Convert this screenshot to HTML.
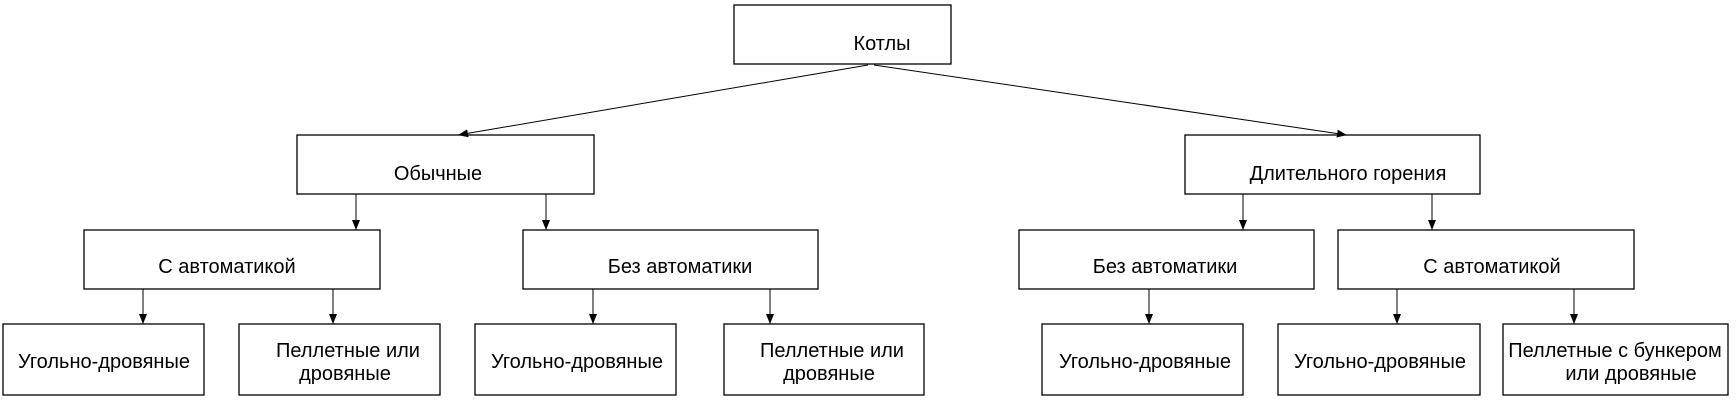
<!DOCTYPE html>
<html><head><meta charset="utf-8"><style>html,body{margin:0;padding:0;background:#fff}svg{display:block}</style></head>
<body>
<svg width="1736" height="406" viewBox="0 0 1736 406" xmlns="http://www.w3.org/2000/svg">
<defs><marker id="a" markerWidth="10" markerHeight="8" refX="10" refY="4" orient="auto" markerUnits="userSpaceOnUse"><path d="M0,0 L10,4 L0,8 z" fill="#000"/></marker></defs>
<g fill="#fff" stroke="#000" stroke-width="1.3">
<rect x="734" y="5" width="217" height="59"/>
<rect x="297" y="135" width="297" height="59"/>
<rect x="1185" y="135" width="295" height="59"/>
<rect x="84" y="230" width="296" height="59"/>
<rect x="523" y="230" width="295" height="59"/>
<rect x="1019" y="230" width="295" height="59"/>
<rect x="1338" y="230" width="296" height="59"/>
<rect x="3" y="324" width="201" height="71"/>
<rect x="239" y="324" width="201" height="71"/>
<rect x="475" y="324" width="201" height="71"/>
<rect x="724" y="324" width="200" height="71"/>
<rect x="1042" y="324" width="201" height="71"/>
<rect x="1278" y="324" width="202" height="71"/>
<rect x="1503" y="324" width="225" height="71"/>
</g>
<g stroke="#000" stroke-width="1" marker-end="url(#a)">
<line x1="868" y1="65" x2="458" y2="135"/>
<line x1="874" y1="65" x2="1347" y2="135"/>
<line x1="356" y1="194" x2="356" y2="230"/>
<line x1="546" y1="194" x2="546" y2="230"/>
<line x1="1243" y1="194" x2="1243" y2="230"/>
<line x1="1432" y1="194" x2="1432" y2="230"/>
<line x1="143" y1="289" x2="143" y2="324"/>
<line x1="333" y1="289" x2="333" y2="324"/>
<line x1="593" y1="289" x2="593" y2="324"/>
<line x1="770" y1="289" x2="770" y2="324"/>
<line x1="1149" y1="289" x2="1149" y2="324"/>
<line x1="1397" y1="289" x2="1397" y2="324"/>
<line x1="1574" y1="289" x2="1574" y2="324"/>
</g>
<g font-family="Liberation Sans, sans-serif" font-size="20" text-anchor="middle" fill="#000">
<text x="882" y="50">Котлы</text>
<text x="438" y="180">Обычные</text>
<text x="1348" y="180">Длительного горения</text>
<text x="227" y="273">С автоматикой</text>
<text x="680" y="273">Без автоматики</text>
<text x="1165" y="273">Без автоматики</text>
<text x="1492" y="273">С автоматикой</text>
<text x="104" y="368">Угольно-дровяные</text>
<text x="348" y="357">Пеллетные или</text>
<text x="345" y="380">дровяные</text>
<text x="577" y="368">Угольно-дровяные</text>
<text x="832" y="357">Пеллетные или</text>
<text x="829" y="380">дровяные</text>
<text x="1145" y="368">Угольно-дровяные</text>
<text x="1380" y="368">Угольно-дровяные</text>
<text x="1615" y="357">Пеллетные с бункером</text>
<text x="1631" y="380">или дровяные</text>
</g>
</svg>
</body></html>
